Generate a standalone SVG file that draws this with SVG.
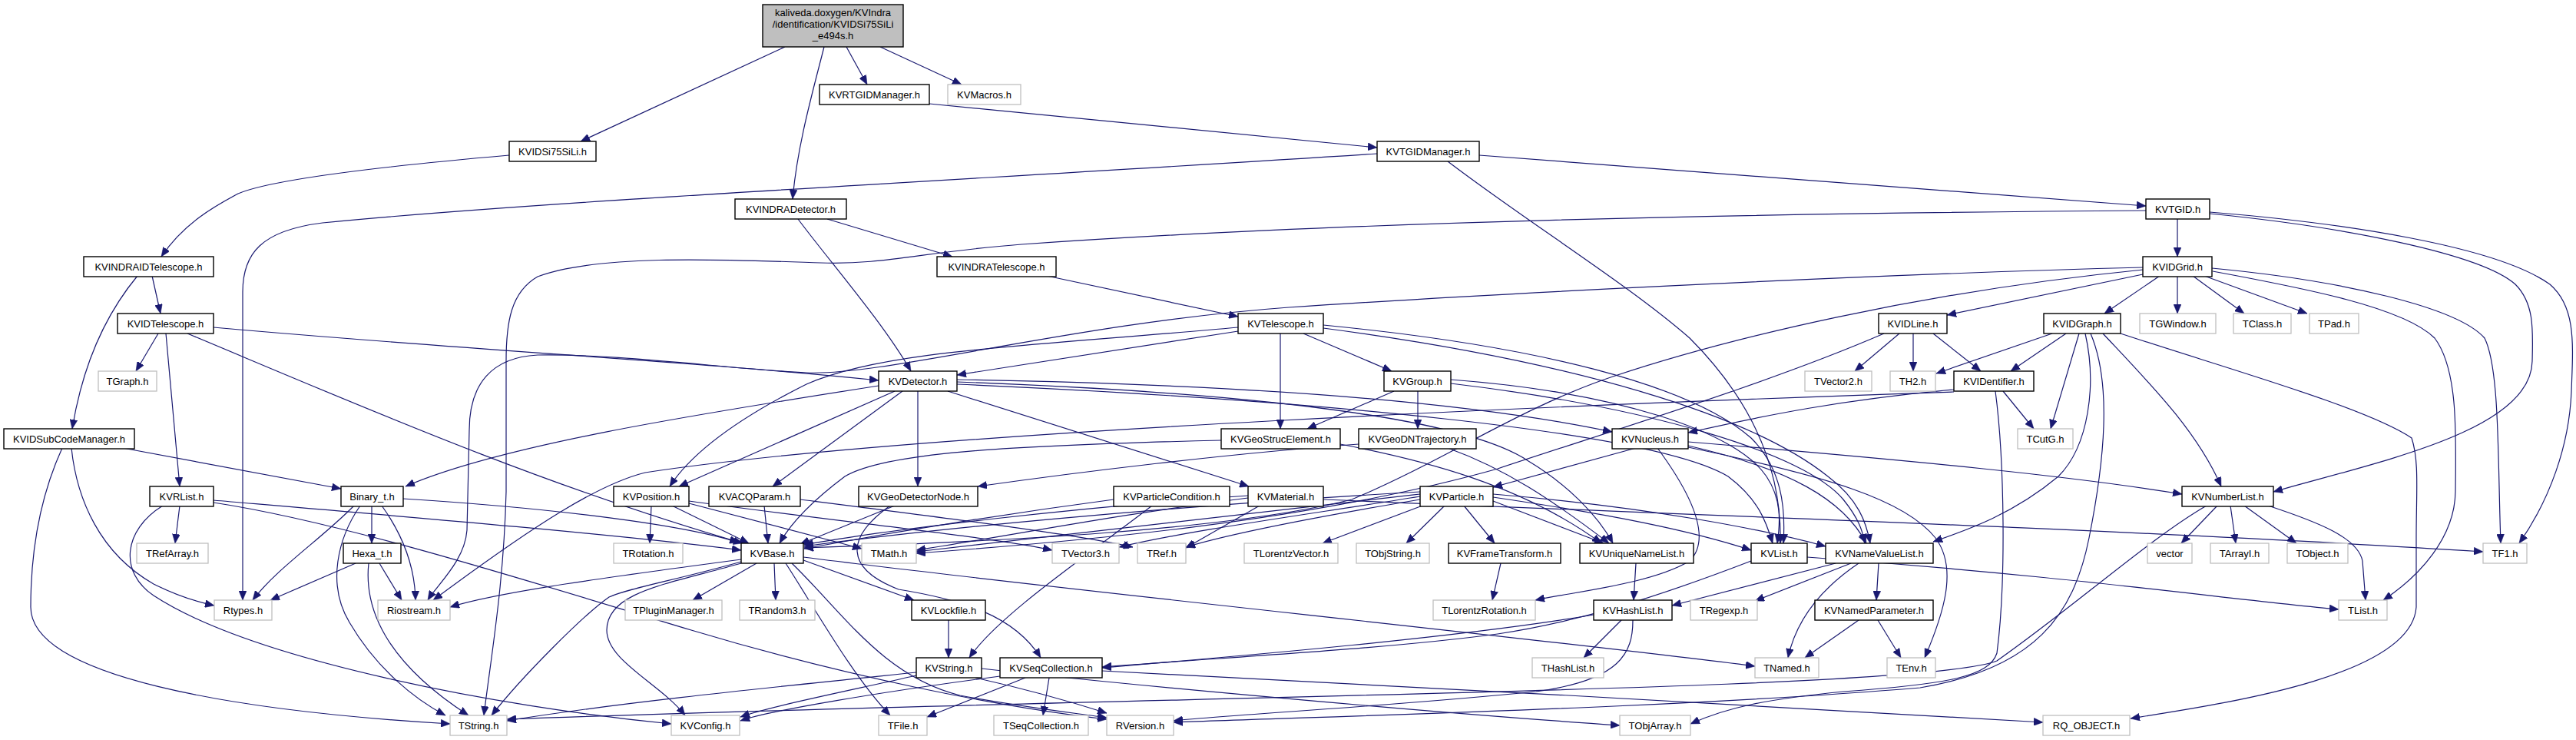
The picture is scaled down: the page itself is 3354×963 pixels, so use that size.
<svg xmlns="http://www.w3.org/2000/svg" width="3354" height="963" viewBox="0 0 3354 963">
<style>
.n rect{fill:#fff;stroke:#000;stroke-width:1.4}
.g rect{fill:#fff;stroke:#bfbfbf;stroke-width:1.3}
.m rect{fill:#bfbfbf;stroke:#000;stroke-width:1.4}
text{font-family:"Liberation Sans",Arial,Helvetica,sans-serif;font-size:13px;text-anchor:middle;fill:#000}
#edges path{fill:none;stroke:#191970;stroke-width:1.2;marker-end:url(#a)}
</style>
<defs>
<marker id="a" viewBox="0 0 12 10" refX="12" refY="5" markerWidth="12" markerHeight="10" markerUnits="userSpaceOnUse" orient="auto">
<path d="M0,0L12,5L0,10z" fill="#191970" stroke="#191970" stroke-width="0.5"/>
</marker>
</defs>
<rect width="3354" height="963" fill="#fff"/>
<g id="edges">
<path d="M1022,61 L756,184"/>
<path d="M1073,61 C1058,120 1038,190 1032,259"/>
<path d="M1102,61 L1129,110"/>
<path d="M1146,61 L1252,110"/>
<path d="M663,202 C480,218 350,235 310,252 C280,268 240,290 210,334"/>
<path d="M1210,135 L1793,192"/>
<path d="M1926,202 L2794,268"/>
<path d="M1793,200 C1300,232 700,262 420,290 C340,300 316,330 316,380 L316,781"/>
<path d="M1885,210 C1990,290 2120,370 2200,440 C2290,530 2320,620 2318,707"/>
<path d="M2835,285 L2835,334"/>
<path d="M2877,276 C3050,290 3250,320 3320,370 C3355,400 3350,450 3348,510 C3345,580 3320,650 3280,707"/>
<path d="M2877,278 C3050,295 3230,330 3275,370 C3300,395 3298,430 3297,470 C3296,560 3100,600 2960,640"/>
<path d="M2794,274 C2200,278 1700,292 1330,318 C1200,328 1150,345 1068,342 C950,338 780,330 700,360 C665,380 659,420 659,470 L659,640 C656,760 640,850 630,931"/>
<path d="M1077,285 L1240,334"/>
<path d="M1039,285 C1080,340 1150,420 1186,483"/>
<path d="M198,359 L209,408"/>
<path d="M179,359 C145,400 110,460 94,558"/>
<path d="M1363,359 L1612,412"/>
<path d="M206,434 L177,483"/>
<path d="M216,434 L234,633"/>
<path d="M278,426 C600,455 900,470 1144,495"/>
<path d="M244,434 C450,520 700,630 967,707"/>
<path d="M160,583 L444,636"/>
<path d="M81,583 C55,640 40,710 40,790 C40,880 300,925 586,942"/>
<path d="M93,583 C100,650 130,720 200,760 C230,775 255,783 279,788"/>
<path d="M234,658 L228,707"/>
<path d="M212,658 C160,690 155,745 200,775 C330,860 650,920 874,942"/>
<path d="M278,651 C500,670 800,695 965,716"/>
<path d="M278,654 C450,680 700,760 900,820 C1100,880 1300,920 1441,936"/>
<path d="M461,658 C420,700 360,740 329,781"/>
<path d="M469,658 C440,700 425,760 455,810 C490,870 540,910 580,931"/>
<path d="M484,658 L484,707"/>
<path d="M497,658 C520,690 540,730 541,781"/>
<path d="M525,649 C700,660 880,680 962,706"/>
<path d="M463,733 L352,781"/>
<path d="M480,733 C474,790 500,860 610,931"/>
<path d="M494,733 L523,781"/>
<path d="M1195,509 L1195,633"/>
<path d="M1175,509 L1006,633"/>
<path d="M1165,509 L884,633"/>
<path d="M1234,509 L1626,633"/>
<path d="M1144,502 C900,540 650,580 528,633"/>
<path d="M1246,494 C1600,500 1900,520 2099,562"/>
<path d="M1246,497 C1600,510 1900,540 1990,600 C2040,630 2080,670 2100,707"/>
<path d="M1246,500 C1700,520 2150,560 2250,620 C2290,650 2300,680 2308,707"/>
<path d="M1612,431 L1246,488"/>
<path d="M1612,426 C1350,450 1150,455 1050,500 C960,545 900,590 872,633"/>
<path d="M1667,434 L1667,558"/>
<path d="M1697,434 L1812,483"/>
<path d="M1723,423 C2000,450 2200,500 2280,570 C2320,610 2325,660 2322,707"/>
<path d="M1723,427 C2050,470 2280,540 2380,620 C2420,650 2430,680 2435,707"/>
<path d="M1815,509 L1702,558"/>
<path d="M1846,509 L1846,558"/>
<path d="M1889,494 C2100,510 2260,560 2300,620 C2320,650 2318,680 2314,707"/>
<path d="M1889,499 C2150,530 2350,590 2400,650 C2420,675 2425,690 2428,707"/>
<path d="M1590,573 C1300,580 1150,590 1100,620 C1060,650 1030,680 1015,707"/>
<path d="M1745,578 C1850,598 1980,630 2085,707"/>
<path d="M1769,578 C1600,590 1400,615 1273,633"/>
<path d="M1885,583 C1960,610 2020,650 2095,707"/>
<path d="M2130,583 L1944,634"/>
<path d="M2198,575 C2500,600 2700,620 2841,643"/>
<path d="M2158,583 C2200,640 2230,700 2200,730 C2150,760 2050,770 1999,781"/>
<path d="M2198,580 C2330,610 2400,650 2430,707"/>
<path d="M2198,582 C2380,620 2480,650 2520,700 C2550,740 2530,800 2506,856"/>
<path d="M2790,357 L2535,410"/>
<path d="M2812,359 L2740,408"/>
<path d="M2835,359 L2835,408"/>
<path d="M2855,359 L2922,408"/>
<path d="M2870,359 L3004,408"/>
<path d="M2880,349 C3050,365 3200,400 3235,440 C3255,480 3252,600 3256,707"/>
<path d="M2881,353 C3000,375 3130,400 3170,440 C3200,480 3198,560 3197,640 C3196,700 3150,750 3103,781"/>
<path d="M2790,348 C2400,358 1900,385 1678,400 C1400,420 1150,490 1050,485 C950,480 800,460 700,462 C640,465 611,500 611,560 L608,690 C605,730 570,760 557,781"/>
<path d="M2790,351 C2500,380 2250,440 2100,490 C1980,530 1880,600 1760,650 C1600,690 1300,705 1047,713"/>
<path d="M2473,434 L2415,483"/>
<path d="M2491,434 L2491,483"/>
<path d="M2517,434 L2579,483"/>
<path d="M2453,434 C2300,500 2100,560 1950,610 C1700,680 1400,705 1193,720"/>
<path d="M2672,434 L2521,486"/>
<path d="M2690,434 L2618,483"/>
<path d="M2707,434 L2670,558"/>
<path d="M2738,434 C2800,500 2860,560 2892,633"/>
<path d="M2761,434 C2900,480 3080,530 3140,570 C3150,600 3146,640 3146,700 L3146,790 C3140,880 2900,915 2774,935"/>
<path d="M2715,434 C2730,500 2720,580 2680,620 C2620,670 2560,690 2517,705"/>
<path d="M2722,434 C2750,500 2740,600 2720,700 C2700,800 2650,870 2500,895 C2200,920 1800,930 1528,940"/>
<path d="M2598,509 C2610,600 2612,760 2600,850 C2590,880 2540,890 2400,900 C2300,910 2250,920 2201,942"/>
<path d="M2608,509 L2648,558"/>
<path d="M2544,507 C2400,520 2300,540 2198,563"/>
<path d="M2544,510 C2100,525 1200,560 840,615 C780,630 700,680 564,781"/>
<path d="M2887,658 L2840,707"/>
<path d="M2904,658 L2911,707"/>
<path d="M2922,658 L2990,707"/>
<path d="M2953,658 C3020,680 3070,700 3076,730 L3080,781"/>
<path d="M2873,658 C2800,700 2700,790 2600,860 C2500,900 1500,905 660,936"/>
<path d="M1849,640 C1500,660 1200,690 1047,711"/>
<path d="M1849,643 C1600,670 1350,700 1193,718"/>
<path d="M1849,646 C1700,670 1550,690 1457,712"/>
<path d="M1849,650 C1700,675 1600,695 1544,712"/>
<path d="M1852,658 L1722,707"/>
<path d="M1881,658 L1831,707"/>
<path d="M1906,658 L1946,707"/>
<path d="M1944,652 L2088,707"/>
<path d="M1944,647 C2100,670 2200,690 2280,716"/>
<path d="M1944,643 C2150,660 2300,690 2377,711"/>
<path d="M1450,650 C1300,670 1150,695 1047,714"/>
<path d="M1500,658 C1420,720 1300,800 1262,856"/>
<path d="M1625,645 C1400,660 1150,690 1047,709"/>
<path d="M1625,648 C1450,670 1300,700 1193,716"/>
<path d="M1640,658 L1544,713"/>
<path d="M1723,650 C2200,670 2800,690 3233,718"/>
<path d="M1954,733 L1943,781"/>
<path d="M2280,730 C2150,780 2050,810 1950,825 C1800,845 1600,855 1435,868"/>
<path d="M2353,725 C2700,750 2900,780 3045,793"/>
<path d="M2130,733 L2127,781"/>
<path d="M2390,733 L2177,788"/>
<path d="M2410,733 L2285,782"/>
<path d="M2420,733 C2380,760 2340,800 2328,856"/>
<path d="M2446,733 L2443,781"/>
<path d="M2420,807 L2350,856"/>
<path d="M2445,807 L2475,856"/>
<path d="M2111,807 L2062,856"/>
<path d="M2075,800 C1900,830 1600,855 1435,869"/>
<path d="M2126,807 C2126,850 2110,885 2000,900 C1800,920 1600,930 1528,938"/>
<path d="M1159,658 C1100,700 1100,740 1170,767 C1250,780 1320,800 1355,856"/>
<path d="M1165,658 L1042,708"/>
<path d="M995,658 L1000,707"/>
<path d="M1042,650 C1200,670 1400,695 1475,712"/>
<path d="M848,658 L846,707"/>
<path d="M875,658 L975,707"/>
<path d="M897,655 L1122,714"/>
<path d="M897,652 C1100,680 1300,700 1370,716"/>
<path d="M985,733 L902,781"/>
<path d="M1008,733 L1010,781"/>
<path d="M1046,729 L1190,781"/>
<path d="M1023,733 C1060,790 1110,880 1159,931"/>
<path d="M1031,733 C1100,800 1150,880 1250,905 C1330,920 1400,928 1441,934"/>
<path d="M1046,725 C1400,770 2000,830 2285,867"/>
<path d="M965,728 C800,750 650,770 586,790"/>
<path d="M965,731 C880,755 820,765 793,777 C760,800 680,880 640,931"/>
<path d="M965,733 C870,760 790,770 790,820 C790,860 860,890 892,931"/>
<path d="M1235,807 L1235,856"/>
<path d="M1193,875 C1000,895 800,915 660,938"/>
<path d="M1193,879 C1100,900 1000,920 964,933"/>
<path d="M1270,882 C1350,900 1400,915 1441,928"/>
<path d="M1278,870 C1500,895 1900,930 2109,944"/>
<path d="M1366,882 L1358,931"/>
<path d="M1335,882 L1207,933"/>
<path d="M1302,880 C1150,900 1000,925 964,938"/>
<path d="M1435,873 C1800,890 2300,920 2660,940"/>
</g>
<g id="n0" class="m"><rect x="993" y="6" width="183" height="55"/><text x="1084.5" y="21">kaliveda.doxygen/KVIndra</text><text x="1084.5" y="36">/identification/KVIDSi75SiLi</text><text x="1084.5" y="51">_e494s.h</text></g>
<g id="n1" class="n"><rect x="1067" y="110" width="143" height="26"/><text x="1138.5" y="127.5">KVRTGIDManager.h</text></g>
<g id="n2" class="g"><rect x="1234" y="110" width="95" height="26"/><text x="1281.5" y="127.5">KVMacros.h</text></g>
<g id="n3" class="n"><rect x="663" y="184" width="113" height="26"/><text x="719.5" y="201.5">KVIDSi75SiLi.h</text></g>
<g id="n4" class="n"><rect x="1793" y="184" width="133" height="26"/><text x="1859.5" y="201.5">KVTGIDManager.h</text></g>
<g id="n5" class="n"><rect x="957" y="259" width="145" height="26"/><text x="1029.5" y="276.5">KVINDRADetector.h</text></g>
<g id="n6" class="n"><rect x="2794" y="259" width="83" height="26"/><text x="2835.5" y="276.5">KVTGID.h</text></g>
<g id="n7" class="n"><rect x="109" y="334" width="169" height="26"/><text x="193.5" y="351.5">KVINDRAIDTelescope.h</text></g>
<g id="n8" class="n"><rect x="1220" y="334" width="155" height="26"/><text x="1297.5" y="351.5">KVINDRATelescope.h</text></g>
<g id="n9" class="n"><rect x="2790" y="334" width="90" height="26"/><text x="2835" y="351.5">KVIDGrid.h</text></g>
<g id="n10" class="n"><rect x="153" y="408" width="125" height="26"/><text x="215.5" y="425.5">KVIDTelescope.h</text></g>
<g id="n11" class="n"><rect x="1612" y="408" width="111" height="26"/><text x="1667.5" y="425.5">KVTelescope.h</text></g>
<g id="n12" class="n"><rect x="2446" y="408" width="89" height="26"/><text x="2490.5" y="425.5">KVIDLine.h</text></g>
<g id="n13" class="n"><rect x="2661" y="408" width="100" height="26"/><text x="2711" y="425.5">KVIDGraph.h</text></g>
<g id="n14" class="g"><rect x="2786" y="408" width="99" height="26"/><text x="2835.5" y="425.5">TGWindow.h</text></g>
<g id="n15" class="g"><rect x="2908" y="408" width="75" height="26"/><text x="2945.5" y="425.5">TClass.h</text></g>
<g id="n16" class="g"><rect x="3007" y="408" width="64" height="26"/><text x="3039" y="425.5">TPad.h</text></g>
<g id="n17" class="g"><rect x="128" y="483" width="76" height="26"/><text x="166" y="500.5">TGraph.h</text></g>
<g id="n18" class="n"><rect x="1144" y="483" width="102" height="26"/><text x="1195" y="500.5">KVDetector.h</text></g>
<g id="n19" class="n"><rect x="1802" y="483" width="87" height="26"/><text x="1845.5" y="500.5">KVGroup.h</text></g>
<g id="n20" class="g"><rect x="2350" y="483" width="87" height="26"/><text x="2393.5" y="500.5">TVector2.h</text></g>
<g id="n21" class="g"><rect x="2461" y="483" width="59" height="26"/><text x="2490.5" y="500.5">TH2.h</text></g>
<g id="n22" class="n"><rect x="2544" y="483" width="104" height="26"/><text x="2596" y="500.5">KVIDentifier.h</text></g>
<g id="n23" class="n"><rect x="5" y="558" width="170" height="26"/><text x="90" y="575.5">KVIDSubCodeManager.h</text></g>
<g id="n24" class="n"><rect x="1590" y="558" width="155" height="26"/><text x="1667.5" y="575.5">KVGeoStrucElement.h</text></g>
<g id="n25" class="n"><rect x="1769" y="558" width="153" height="26"/><text x="1845.5" y="575.5">KVGeoDNTrajectory.h</text></g>
<g id="n26" class="n"><rect x="2099" y="558" width="99" height="26"/><text x="2148.5" y="575.5">KVNucleus.h</text></g>
<g id="n27" class="g"><rect x="2627" y="558" width="72" height="26"/><text x="2663" y="575.5">TCutG.h</text></g>
<g id="n28" class="n"><rect x="195" y="633" width="83" height="26"/><text x="236.5" y="650.5">KVRList.h</text></g>
<g id="n29" class="n"><rect x="444" y="633" width="81" height="26"/><text x="484.5" y="650.5">Binary_t.h</text></g>
<g id="n30" class="n"><rect x="799" y="633" width="98" height="26"/><text x="848" y="650.5">KVPosition.h</text></g>
<g id="n31" class="n"><rect x="923" y="633" width="119" height="26"/><text x="982.5" y="650.5">KVACQParam.h</text></g>
<g id="n32" class="n"><rect x="1118" y="633" width="155" height="26"/><text x="1195.5" y="650.5">KVGeoDetectorNode.h</text></g>
<g id="n33" class="n"><rect x="1450" y="633" width="151" height="26"/><text x="1525.5" y="650.5">KVParticleCondition.h</text></g>
<g id="n34" class="n"><rect x="1625" y="633" width="98" height="26"/><text x="1674" y="650.5">KVMaterial.h</text></g>
<g id="n35" class="n"><rect x="1849" y="633" width="95" height="26"/><text x="1896.5" y="650.5">KVParticle.h</text></g>
<g id="n36" class="n"><rect x="2841" y="633" width="119" height="26"/><text x="2900.5" y="650.5">KVNumberList.h</text></g>
<g id="n37" class="g"><rect x="178" y="707" width="93" height="26"/><text x="224.5" y="724.5">TRefArray.h</text></g>
<g id="n38" class="n"><rect x="447" y="707" width="75" height="26"/><text x="484.5" y="724.5">Hexa_t.h</text></g>
<g id="n39" class="g"><rect x="799" y="707" width="90" height="26"/><text x="844" y="724.5">TRotation.h</text></g>
<g id="n40" class="n"><rect x="965" y="707" width="81" height="26"/><text x="1005.5" y="724.5">KVBase.h</text></g>
<g id="n41" class="g"><rect x="1122" y="707" width="71" height="26"/><text x="1157.5" y="724.5">TMath.h</text></g>
<g id="n42" class="g"><rect x="1370" y="707" width="87" height="26"/><text x="1413.5" y="724.5">TVector3.h</text></g>
<g id="n43" class="g"><rect x="1481" y="707" width="63" height="26"/><text x="1512.5" y="724.5">TRef.h</text></g>
<g id="n44" class="g"><rect x="1620" y="707" width="122" height="26"/><text x="1681" y="724.5">TLorentzVector.h</text></g>
<g id="n45" class="g"><rect x="1766" y="707" width="95" height="26"/><text x="1813.5" y="724.5">TObjString.h</text></g>
<g id="n46" class="n"><rect x="1886" y="707" width="146" height="26"/><text x="1959" y="724.5">KVFrameTransform.h</text></g>
<g id="n47" class="n"><rect x="2057" y="707" width="148" height="26"/><text x="2131" y="724.5">KVUniqueNameList.h</text></g>
<g id="n48" class="n"><rect x="2280" y="707" width="73" height="26"/><text x="2316.5" y="724.5">KVList.h</text></g>
<g id="n49" class="n"><rect x="2377" y="707" width="140" height="26"/><text x="2447" y="724.5">KVNameValueList.h</text></g>
<g id="n50" class="g"><rect x="2796" y="707" width="58" height="26"/><text x="2825" y="724.5">vector</text></g>
<g id="n51" class="g"><rect x="2878" y="707" width="76" height="26"/><text x="2916" y="724.5">TArrayI.h</text></g>
<g id="n52" class="g"><rect x="2978" y="707" width="79" height="26"/><text x="3017.5" y="724.5">TObject.h</text></g>
<g id="n53" class="g"><rect x="3233" y="707" width="57" height="26"/><text x="3261.5" y="724.5">TF1.h</text></g>
<g id="n54" class="g"><rect x="279" y="781" width="75" height="26"/><text x="316.5" y="798.5">Rtypes.h</text></g>
<g id="n55" class="g"><rect x="492" y="781" width="94" height="26"/><text x="539" y="798.5">Riostream.h</text></g>
<g id="n56" class="g"><rect x="814" y="781" width="126" height="26"/><text x="877" y="798.5">TPluginManager.h</text></g>
<g id="n57" class="g"><rect x="963" y="781" width="98" height="26"/><text x="1012" y="798.5">TRandom3.h</text></g>
<g id="n58" class="n"><rect x="1187" y="781" width="96" height="26"/><text x="1235" y="798.5">KVLockfile.h</text></g>
<g id="n59" class="g"><rect x="1866" y="781" width="133" height="26"/><text x="1932.5" y="798.5">TLorentzRotation.h</text></g>
<g id="n60" class="n"><rect x="2075" y="781" width="102" height="26"/><text x="2126" y="798.5">KVHashList.h</text></g>
<g id="n61" class="g"><rect x="2201" y="781" width="87" height="26"/><text x="2244.5" y="798.5">TRegexp.h</text></g>
<g id="n62" class="n"><rect x="2363" y="781" width="154" height="26"/><text x="2440" y="798.5">KVNamedParameter.h</text></g>
<g id="n63" class="g"><rect x="3045" y="781" width="63" height="26"/><text x="3076.5" y="798.5">TList.h</text></g>
<g id="n64" class="n"><rect x="1193" y="856" width="85" height="26"/><text x="1235.5" y="873.5">KVString.h</text></g>
<g id="n65" class="n"><rect x="1302" y="856" width="133" height="26"/><text x="1368.5" y="873.5">KVSeqCollection.h</text></g>
<g id="n66" class="g"><rect x="1995" y="856" width="93" height="26"/><text x="2041.5" y="873.5">THashList.h</text></g>
<g id="n67" class="g"><rect x="2285" y="856" width="83" height="26"/><text x="2326.5" y="873.5">TNamed.h</text></g>
<g id="n68" class="g"><rect x="2457" y="856" width="63" height="26"/><text x="2488.5" y="873.5">TEnv.h</text></g>
<g id="n69" class="g"><rect x="586" y="931" width="74" height="26"/><text x="623" y="948.5">TString.h</text></g>
<g id="n70" class="g"><rect x="874" y="931" width="89" height="26"/><text x="918.5" y="948.5">KVConfig.h</text></g>
<g id="n71" class="g"><rect x="1144" y="931" width="63" height="26"/><text x="1175.5" y="948.5">TFile.h</text></g>
<g id="n72" class="g"><rect x="1294" y="931" width="123" height="26"/><text x="1355.5" y="948.5">TSeqCollection.h</text></g>
<g id="n73" class="g"><rect x="1441" y="931" width="87" height="26"/><text x="1484.5" y="948.5">RVersion.h</text></g>
<g id="n74" class="g"><rect x="2109" y="931" width="92" height="26"/><text x="2155" y="948.5">TObjArray.h</text></g>
<g id="n75" class="g"><rect x="2660" y="931" width="113" height="26"/><text x="2716.5" y="948.5">RQ_OBJECT.h</text></g>
</svg>
